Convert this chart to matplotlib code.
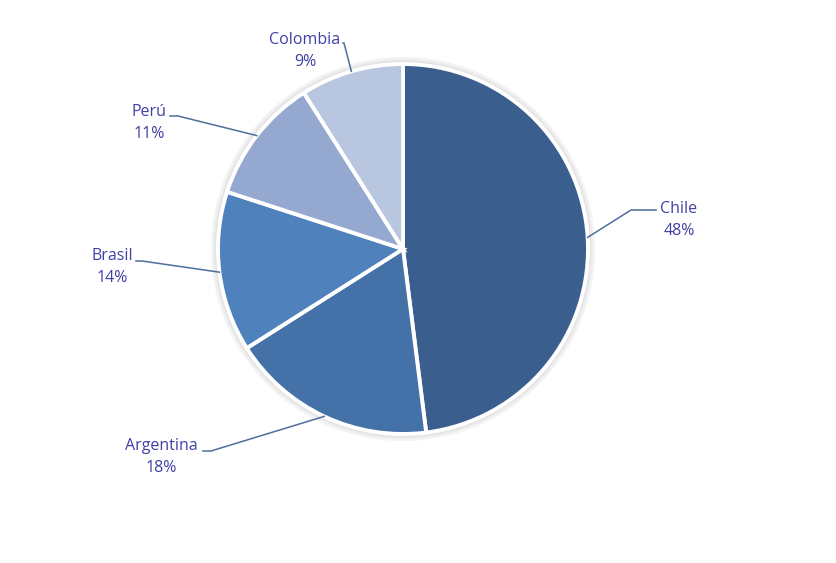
import numpy as np
import matplotlib
matplotlib.use("Agg")
import matplotlib.pyplot as plt
from matplotlib.patches import Circle

labels = ["Chile", "Argentina", "Brasil", "Perú", "Colombia"]
values = [48, 18, 14, 11, 9]
colors = ["#3A5F8E", "#4472A8", "#4F81BD", "#95A9D0", "#B9C6E0"]

W, H = 836, 563
fig = plt.figure(figsize=(W / 100, H / 100), dpi=100)
ax = fig.add_axes([0, 0, 1, 1])

cx, cy, r = 403, H - 249, 185

wedges, _ = ax.pie(values, colors=colors, startangle=90, counterclock=False,
                   center=(cx, cy), radius=r,
                   wedgeprops=dict(edgecolor="white", linewidth=2.8))
for w in wedges:
    w.set_zorder(2)

ax.set_xlim(0, W)
ax.set_ylim(0, H)
ax.set_aspect("equal")
ax.axis("off")

# soft shadow ring
for lw, col in [(8, "#f4f4f4"), (5, "#ececec"), (2.5, "#e3e3e3")]:
    ax.add_patch(Circle((cx, cy), r + 1.5, fill=False, edgecolor=col, linewidth=lw, zorder=1))

# label layout (pixel coords, y from top): text center, line points from text side
label_pos = {
    "Chile": ((679, 220), [(656, 210), (631, 210)]),
    "Argentina": ((161, 457), [(203, 451), (211, 451)]),
    "Brasil": ((112, 267), [(136, 261), (142, 261)]),
    "Perú": ((149, 123), [(170, 116), (178, 116)]),
    "Colombia": ((305, 51), [(343, 43), (344, 43)]),
}

text_color = "#4040A6"
line_color = "#4E6E9C"
total = sum(values)
cum = 0
for lab, v in zip(labels, values):
    mid = cum + v / 2
    cum += v
    ang = np.deg2rad(90 - mid / total * 360)
    px, py = cx + r * np.cos(ang), cy + r * np.sin(ang)
    (tx, ty), pts = label_pos[lab]
    xs = [px] + [p[0] for p in pts[::-1]]
    ys = [py] + [H - p[1] for p in pts[::-1]]
    ax.plot(xs, ys, color=line_color, linewidth=1.1, zorder=3)
    ax.text(tx, H - ty, f"{lab}\n{v}%", ha="center", va="center",
            color=text_color, fontsize=11.5, family=["Open Sans", "DejaVu Sans"],
            linespacing=1.5, zorder=4)

fig.savefig("out.png", dpi=100)
